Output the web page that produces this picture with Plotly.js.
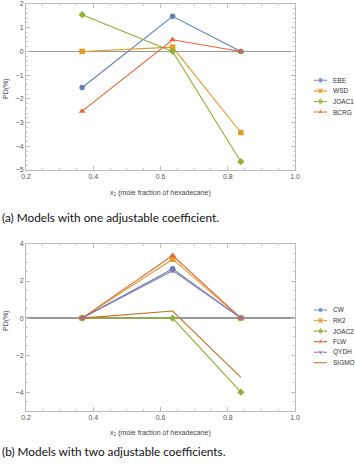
<!DOCTYPE html>
<html><head><meta charset="utf-8">
<script src="https://cdn.plot.ly/plotly-3.0.1.min.js"></script>
<style>html,body{margin:0;padding:0;background:#fff;}#plot{width:355px;height:464px;}</style>
</head><body><div id="plot"></div>
<script>
// ---- data ----
const xVals = [0.367, 0.636, 0.839];
// (a) one adjustable coefficient
const namesA = ['EBE', 'WSD', 'JOAC1', 'BCRG'];
const EBE   = [-1.52, 1.48, 0.0];
const WSD   = [0.0, 0.18, -3.42];
const JOAC1 = [1.55, 0.0, -4.65];
const BCRG  = [-2.52, 0.49, 0.0];
// (b) two adjustable coefficients
const namesB = ['CW', 'RK2', 'JOAC2', 'FLW', 'QYDH', 'SIGMO'];
const CW    = [0.0, 2.66, 0.0];
const RK2   = [0.0, 3.18, 0.0];
const JOAC2 = [0.0, 0.0, -4.0];
const FLW   = [0.0, 3.38, 0.0];
const QYDH  = [0.0, 2.56, 0.0];
const SIGMO = [0.0, 0.38, -3.2];
const xTickVals = [0.2, 0.4, 0.6, 0.8, 1.0];
const yTicksA = [2, 1, 0, -1, -2, -3, -4, -5];
const yTicksB = [4, 2, 0, -2, -4];
const captionA = '(a) Models with one adjustable coefficient.';
const captionB = '(b) Models with two adjustable coefficients.';

// ---- styles ----
const styA = [
  {color:'#5E81B5', symbol:'circle', size:5.5},
  {color:'#E19C24', symbol:'square', size:5.5},
  {color:'#8FB032', symbol:'diamond', size:5.5},
  {color:'#EB6235', symbol:'triangle-up', size:6}
];
const styB = [
  {color:'#5E81B5', symbol:'circle', size:5.5},
  {color:'#E19C24', symbol:'square', size:5.5},
  {color:'#8FB032', symbol:'diamond', size:5.5},
  {color:'#EB6235', symbol:'triangle-up', size:6},
  {color:'#8778B3', symbol:'triangle-down', size:6},
  {color:'#C56E1A', symbol:null}
];
const seriesA = [EBE, WSD, JOAC1, BCRG];
const seriesB = [CW, RK2, JOAC2, FLW, QYDH, SIGMO];

const traces = [];
function addSeries(ys, names, sty, xa, ya, lxa, lya){
  ys.forEach((y,i)=>{
    const s = sty[i];
    const hasM = !!s.symbol;
    const t = {x:xVals, y:y, xaxis:xa, yaxis:ya, type:'scatter',
      mode: hasM ? 'lines+markers' : 'lines', showlegend:false, cliponaxis:false,
      line:{color:s.color, width:1.1}};
    if (hasM) t.marker = {symbol:s.symbol, size:s.size, color:s.color};
    traces.push(t);
    // legend sample
    const l = {x:[0,0.5,1], y:[i,i,i], xaxis:lxa, yaxis:lya, type:'scatter',
      mode: hasM ? 'lines+markers':'lines', showlegend:false, hoverinfo:'skip',
      line:{color:s.color, width:1.1}};
    if (hasM) l.marker = {symbol:s.symbol, size:[0,s.size,0], color:s.color};
    traces.push(l);
  });
}
addSeries(seriesA, namesA, styA, 'x', 'y', 'x3', 'y3');
addSeries(seriesB, namesB, styB, 'x2', 'y2', 'x4', 'y4');

const W = 355, H = 464;
const px = v => v / W, py = v => 1 - v / H;
const tickFont = {family:'Liberation Sans, Arial, sans-serif', size:7, color:'#555'};
function xAxis(anchor, dom){
  return {domain:dom, anchor:anchor, range:[0.2,1.0], tickvals:xTickVals, tickformat:'.1f',
    ticks:'inside', ticklen:4, tickcolor:'#bbb', showline:true, linecolor:'#bbb', linewidth:1,
    mirror:'ticks', showgrid:false, zeroline:false, tickfont:tickFont,
    minor:{ticks:'inside', dtick:0.05, ticklen:2, tickcolor:'#ccc', showgrid:false}};
}
function yAxis(anchor, dom, rng, tv, minorD){
  return {domain:dom, anchor:anchor, range:rng, tickvals:tv,
    ticks:'inside', ticklen:4, tickcolor:'#bbb', showline:true, linecolor:'#bbb', linewidth:1,
    mirror:'ticks', showgrid:false, zeroline:true, zerolinecolor:'#999', zerolinewidth:1.5,
    tickfont:tickFont, minor:{ticks:'inside', dtick:minorD, ticklen:2, tickcolor:'#ccc', showgrid:false}};
}
const xDom = [px(26), px(295)];
const hidden = (dom, rng) => ({domain:dom, range:rng, visible:false, fixedrange:true});

const annotations = [];
function legendText(names, xa, ya){
  names.forEach((n,i)=>annotations.push({text:n, x:1, y:i, xref:xa, yref:ya, xanchor:'left',
    yanchor:'middle', xshift:4, showarrow:false,
    font:{family:'Liberation Sans, Arial, sans-serif', size:6.5, color:'#333'}}));
}
legendText(namesA, 'x3', 'y3');
legendText(namesB, 'x4', 'y4');
const titleFont = {family:'Liberation Sans, Arial, sans-serif', size:7, color:'#444'};
const xTitle = '<i>x</i><sub>1</sub> (mole fraction of hexadecane)';
annotations.push({text:xTitle, x:px(160), y:py(193), xref:'paper', yref:'paper', showarrow:false, font:titleFont, xanchor:'center', yanchor:'middle'});
annotations.push({text:xTitle, x:px(160), y:py(433), xref:'paper', yref:'paper', showarrow:false, font:titleFont, xanchor:'center', yanchor:'middle'});
annotations.push({text:'PD(%)', x:px(6), y:py(88), xref:'paper', yref:'paper', showarrow:false, font:titleFont, textangle:-90, xanchor:'center', yanchor:'middle'});
annotations.push({text:'PD(%)', x:px(6), y:py(320), xref:'paper', yref:'paper', showarrow:false, font:titleFont, textangle:-90, xanchor:'center', yanchor:'middle'});
const capFont = {family:'Lato, Open Sans, sans-serif', size:11.8, color:'#111'};
annotations.push({text:captionA, x:0, y:py(217), xref:'paper', yref:'paper', showarrow:false, font:capFont, xanchor:'left', yanchor:'middle'});
annotations.push({text:captionB, x:0, y:py(451), xref:'paper', yref:'paper', showarrow:false, font:capFont, xanchor:'left', yanchor:'middle'});

const layout = {
  width:W, height:H, margin:{l:0,r:0,t:0,b:0}, paper_bgcolor:'#fff', plot_bgcolor:'#fff',
  showlegend:false,
  xaxis: xAxis('y', xDom),
  yaxis: yAxis('x', [py(170), py(4)], [-5, 2], yTicksA, 0.2),
  xaxis2: xAxis('y2', xDom),
  yaxis2: yAxis('x2', [py(410.7), py(244)], [-5, 4], yTicksB, 0.5),
  xaxis3: Object.assign(hidden([px(314), px(327)], [0,1]), {anchor:'y3'}),
  yaxis3: Object.assign(hidden([py(117.3), py(75)], [3.5,-0.5]), {anchor:'x3'}),
  xaxis4: Object.assign(hidden([px(314), px(327)], [0,1]), {anchor:'y4'}),
  yaxis4: Object.assign(hidden([py(368), py(304.7)], [5.5,-0.5]), {anchor:'x4'}),
  annotations: annotations
};
Plotly.newPlot('plot', traces, layout, {displayModeBar:false, staticPlot:true});
</script></body></html>
